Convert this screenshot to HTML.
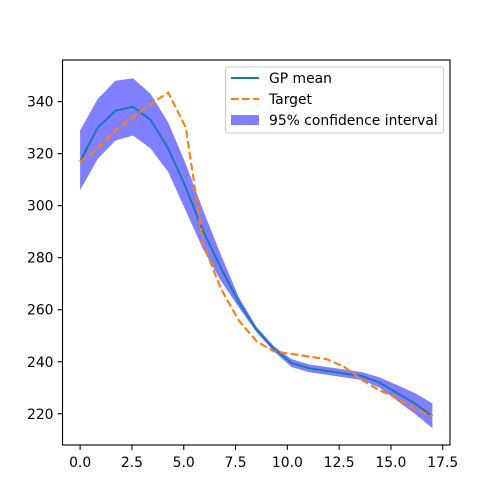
<!DOCTYPE html>
<html><head><meta charset="utf-8"><style>
body{margin:0;background:#fff;}
svg{display:block;font-family:"DejaVu Sans","Liberation Sans",sans-serif;}
</style></head><body>
<svg id="chart" width="500" height="500"></svg>
<script>
const xs = [0,0.85,1.7,2.55,3.4,4.25,5.1,5.95,6.8,7.65,8.5,9.35,10.2,11.05,11.9,12.75,13.6,14.45,15.3,16.15,17];
const meanVals = [317,330,336.5,338,333,322,307,290,276,263,252.5,245,239.5,237.5,236.5,235.5,234.5,232,228,224,219];
const upperVals = [329,341,348,349,343,332,316,298,281,265,253.5,246,241,239,238,237,236,234,231,228,224];
const lowerVals = [306,318,325,327,322,313,298,283,271,261,251.5,244,238,236,235,234,233,230,225,220,214.5];
const targetVals = [317,322,329,334,339,343.5,330,285,268,256,248,244,243,242,241,238,233,229,226,222,219];
const xTicks = [0,2.5,5,7.5,10,12.5,15,17.5];
const yTicks = [220,240,260,280,300,320,340];

const L=62.5,R=450,T=60,B=445,xmin=-0.85,xmax=17.85,ymin=208,ymax=356;
const sx=v=>L+(v-xmin)/(xmax-xmin)*(R-L);
const sy=v=>B-(v-ymin)/(ymax-ymin)*(B-T);
const svg=document.getElementById('chart');
const NS='http://www.w3.org/2000/svg';
function mk(tag,attrs,parent){const e=document.createElementNS(NS,tag);for(const k in attrs)e.setAttribute(k,attrs[k]);(parent||svg).appendChild(e);return e;}

let band=xs.map((x,i)=>sx(x)+','+sy(upperVals[i])).join(' ')+' '+xs.slice().reverse().map((x,j)=>{const i=xs.length-1-j;return sx(x)+','+sy(lowerVals[i]);}).join(' ');
const b=mk('polygon',{points:band,fill:'#0000ff','fill-opacity':0.5,stroke:'none'});


const m=mk('polyline',{points:xs.map((x,i)=>sx(x)+','+sy(meanVals[i])).join(' '),fill:'none',stroke:'#1f77b4','stroke-width':2.08,'stroke-linejoin':'round'});


const t=mk('polyline',{points:xs.map((x,i)=>sx(x)+','+sy(targetVals[i])).join(' '),fill:'none',stroke:'#ff7f0e','stroke-width':2.08,'stroke-dasharray':'7.7,3.3'});



const frame=mk('rect',{x:L,y:T,width:R-L,height:B-T,fill:'none',stroke:'#000','stroke-width':1.1});


xTicks.forEach(v=>{
  const l=mk('line',{x1:sx(v),x2:sx(v),y1:B,y2:B+4.9,stroke:'#000','stroke-width':1.1});
  
  
  const tx=mk('text',{x:sx(v),y:B+22,'text-anchor':'middle','font-size':13.9});
  tx.textContent=v.toFixed(1);
  
  
});
yTicks.forEach(v=>{
  const l=mk('line',{x1:L-4.9,x2:L,y1:sy(v),y2:sy(v),stroke:'#000','stroke-width':1.1});
  
  
  const tx=mk('text',{x:L-9,y:sy(v)+5,'text-anchor':'end','font-size':13.9});
  tx.textContent=v;
  
  
});
</script>
<svg style="position:absolute;left:0;top:0" width="500" height="500">
<rect x="225.5" y="67" width="218" height="66" rx="2" fill="#fff" fill-opacity="0.8" stroke="#ccc" stroke-width="1.1"/>
<line x1="231" x2="259" y1="78" y2="78" stroke="#1f77b4" stroke-width="2.08"/>
<text x="269" y="83" font-size="13.9">GP mean</text>
<line x1="231" x2="259" y1="99" y2="99" stroke="#ff7f0e" stroke-width="2.08" stroke-dasharray="7.7,3.3"/>
<text x="269" y="104" font-size="13.9">Target</text>
<rect x="231" y="115" width="28" height="10" fill="#0000ff" fill-opacity="0.5"/>
<text x="269" y="125" font-size="13.9">95% confidence interval</text>
</svg>
</body></html>
